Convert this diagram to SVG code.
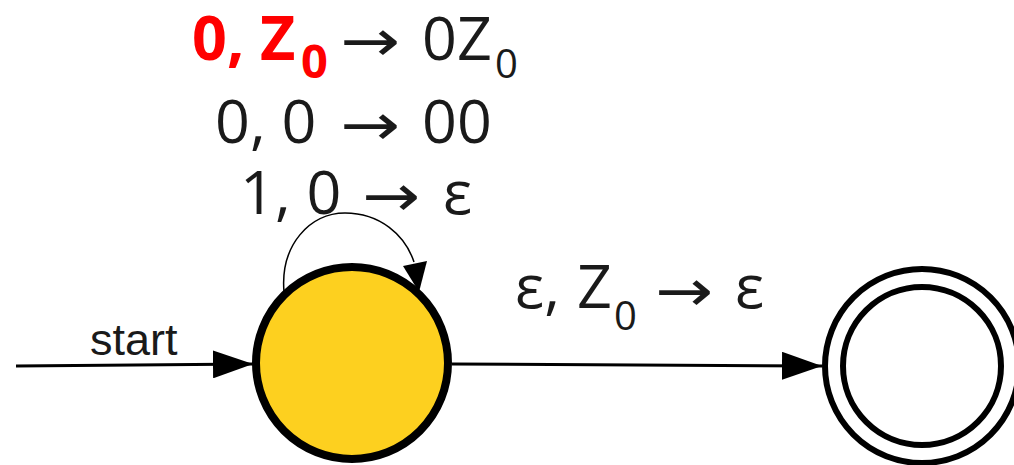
<svg xmlns="http://www.w3.org/2000/svg" width="1014" height="465" viewBox="0 0 1014 465">
<style>
.lbl{font-family:"Open Sans","DejaVu Sans",sans-serif;font-size:61px;fill:#1a1a1a}
.sub{font-size:40px}
.rsub{font-size:47px}
.arr{font-family:"DejaVu Sans",sans-serif;font-size:58px;fill:#1a1a1a}
.red{fill:#ff0000;font-weight:bold}
.edge{fill:none;stroke:#000}
</style>
<defs>
<marker id="ah" markerWidth="40" markerHeight="28" refX="40" refY="14" orient="auto" markerUnits="userSpaceOnUse">
<path d="M0,0 L40,14 L0,28 Z" fill="#000"/>
</marker>
</defs>
<g id="connectors">
<line class="edge" x1="16" y1="366" x2="253" y2="364" stroke-width="3" marker-end="url(#ah)"/>
<line class="edge" x1="452" y1="364" x2="822" y2="366" stroke-width="3" marker-end="url(#ah)"/>
<path class="edge" d="M284,292 C280,245 310,213 345,213 C380,213 405,235 414,262" stroke-width="1.5"/>
<path d="M403,266 L427,261 L419,292 Z" fill="#000"/>
<text x="90" y="355" style="font-family:'Liberation Sans',sans-serif;font-size:45px;fill:#1a1a1a">start</text>
<text class="lbl" y="308"><tspan x="515">ε,</tspan><tspan x="577">Z</tspan><tspan class="sub" x="614" dy="22">0</tspan><tspan x="735" dy="-22">ε</tspan></text>
<text class="arr" x="655" y="311" textLength="58" lengthAdjust="spacingAndGlyphs">→</text>
</g>
<g id="labels-loop">
<text class="lbl" y="60"><tspan class="red" x="192">0, Z</tspan><tspan class="red rsub" x="301" dy="18">0</tspan><tspan x="422" dy="-18">0Z</tspan><tspan class="sub" x="495" dy="18">0</tspan></text>
<text class="arr" x="340" y="61" textLength="60" lengthAdjust="spacingAndGlyphs">→</text>
<text class="lbl" y="143"><tspan x="215">0, 0</tspan><tspan x="422">00</tspan></text>
<text class="arr" x="340" y="145" textLength="60" lengthAdjust="spacingAndGlyphs">→</text>
<text class="lbl" y="214"><tspan x="240">1, 0</tspan><tspan x="443">ε</tspan></text>
<text class="arr" x="362" y="216" textLength="58" lengthAdjust="spacingAndGlyphs">→</text>
</g>
<g id="q0">
<circle cx="352" cy="363" r="96" fill="#fdd01f" stroke="#000" stroke-width="8"/>
</g>
<g id="q1">
<circle cx="922" cy="366" r="97" fill="#fff" stroke="#000" stroke-width="6"/>
<circle cx="922" cy="366" r="79" fill="none" stroke="#000" stroke-width="6"/>
</g>
</svg>
